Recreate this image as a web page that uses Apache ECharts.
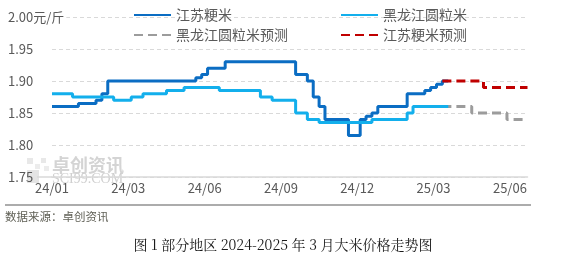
<!DOCTYPE html>
<html><head><meta charset="utf-8">
<script src="https://cdn.jsdelivr.net/npm/echarts@6/dist/echarts.min.js"></script>
<style>html,body{margin:0;padding:0;background:#fff}#c{width:566px;height:259px}</style>
</head><body><div id="c"></div>
<script>
// ---- data (weekly points) ----
const tickLabels = ['24/01','24/03','24/06','24/09','24/12','25/03','25/06'];
const seriesNames = ['江苏粳米','黑龙江圆粒米','黑龙江圆粒米预测','江苏粳米预测'];
const jiangsu = [
  1.86,1.86,1.86,1.86,1.86,1.865,1.865,1.865,1.87,1.88,
  1.90,1.90,1.90,1.90,1.90,1.90,1.90,1.90,1.90,1.90,
  1.90,1.90,1.90,1.90,1.90,1.905,1.91,1.92,1.92,1.92,
  1.93,1.93,1.93,1.93,1.93,1.93,1.93,1.93,1.93,1.93,
  1.93,1.93,1.91,1.91,1.90,1.875,1.86,1.84,1.84,1.84,
  1.84,1.815,1.815,1.84,1.845,1.85,1.86,1.86,1.86,1.86,
  1.86,1.88,1.88,1.88,1.885,1.89,1.895,1.90,null,null,
  null,null,null,null,null,null,null,null,null,null,
  null,null
];
const heilongjiang = [
  1.88,1.88,1.88,1.88,1.875,1.875,1.875,1.875,1.875,1.875,
  1.875,1.87,1.87,1.87,1.875,1.875,1.88,1.88,1.88,1.88,
  1.885,1.885,1.885,1.89,1.89,1.89,1.89,1.89,1.89,1.885,
  1.885,1.885,1.885,1.885,1.885,1.885,1.875,1.875,1.87,1.87,
  1.87,1.87,1.85,1.85,1.84,1.84,1.835,1.835,1.835,1.835,
  1.835,1.835,1.835,1.835,1.835,1.84,1.84,1.84,1.84,1.84,
  1.84,1.85,1.86,1.86,1.86,1.86,1.86,1.86,null,null,
  null,null,null,null,null,null,null,null,null,null,
  null,null
];
const hljForecast = [
  null,null,null,null,null,null,null,null,null,null,
  null,null,null,null,null,null,null,null,null,null,
  null,null,null,null,null,null,null,null,null,null,
  null,null,null,null,null,null,null,null,null,null,
  null,null,null,null,null,null,null,null,null,null,
  null,null,null,null,null,null,null,null,null,null,
  null,null,null,null,null,null,null,1.86,1.86,1.86,
  1.86,1.86,1.85,1.85,1.85,1.85,1.85,1.85,1.84,1.84,
  1.84,1.84
];
const jsForecast = [
  null,null,null,null,null,null,null,null,null,null,
  null,null,null,null,null,null,null,null,null,null,
  null,null,null,null,null,null,null,null,null,null,
  null,null,null,null,null,null,null,null,null,null,
  null,null,null,null,null,null,null,null,null,null,
  null,null,null,null,null,null,null,null,null,null,
  null,null,null,null,null,null,null,1.90,1.90,1.90,
  1.90,1.90,1.90,1.90,1.89,1.89,1.89,1.89,1.89,1.89,
  1.89,1.89
];
const categories = jiangsu.map((_, i) => String(i));

const FONT = '"Noto Sans CJK SC", "Liberation Sans", sans-serif';
const TXT = '#595959';
const colors = ['#0B6DC3', '#13AFEC', '#9C9C9C', '#C00000'];

function legendAt(name, left, top) {
  return {
    data: [name], left: left, top: top, padding: 0,
    itemWidth: 37, itemHeight: 14, selectedMode: false,
    itemStyle: { opacity: 0 },
    textStyle: { color: TXT, fontSize: 14, fontFamily: FONT }
  };
}
function lineSeries(name, data, color, dashed, z) {
  return {
    name: name, type: 'line', data: data, step: 'middle', symbol: 'none',
    z: z, connectNulls: false,
    itemStyle: { color: color },
    lineStyle: { color: color, width: 3, type: dashed ? [9, 5] : 'solid', cap: 'butt' },
    emphasis: { disabled: true }
  };
}

const chart = echarts.init(document.getElementById('c'), null, { renderer: 'canvas' });
chart.setOption({
  animation: false,
  backgroundColor: '#fff',
  grid: { left: 52, right: 38.5, top: 17, bottom: 82, containLabel: false },
  legend: [
    legendAt(seriesNames[0], 133, 8),
    legendAt(seriesNames[1], 340, 8),
    legendAt(seriesNames[2], 133, 28),
    legendAt(seriesNames[3], 340, 28)
  ],
  xAxis: {
    type: 'category', data: categories, boundaryGap: false,
    axisLine: { show: true, lineStyle: { color: '#D9D9D9', width: 1.5 } },
    axisTick: { show: false },
    splitLine: { show: false },
    axisLabel: {
      interval: 12, margin: 5, color: TXT, fontSize: 13, fontFamily: FONT,
      formatter: (v, i) => tickLabels[Math.round(i / 13)] || ''
    }
  },
  yAxis: {
    type: 'value', min: 1.75, max: 2.00, interval: 0.05,
    axisLine: { show: false }, axisTick: { show: false },
    splitLine: { show: true, lineStyle: { color: '#D9D9D9', type: [4, 3], width: 1 } },
    axisLabel: {
      align: 'left', margin: 44, color: TXT, fontSize: 13, fontFamily: FONT,
      formatter: v => Math.abs(v - 2) < 1e-9 ? '{top|2.00元/斤}' : v.toFixed(2),
      rich: { top: { backgroundColor: '#fff', color: TXT, fontSize: 13, fontFamily: FONT, padding: [0, 2, 0, 0] } }
    }
  },
  graphic: [
    // watermark
    { type: 'rect', z: 0, shape: { x: 27, y: 170, width: 12, height: 13 }, style: { fill: '#E4E4E4' } },
    { type: 'rect', z: 0, shape: { x: 27, y: 158, width: 6, height: 6 }, style: { fill: '#E8E8E8' } },
    { type: 'rect', z: 0, shape: { x: 41, y: 158, width: 5, height: 5 }, style: { fill: '#E8E8E8' } },
    { type: 'rect', z: 0, shape: { x: 35, y: 164, width: 5, height: 5 }, style: { fill: '#ECECEC' } },
    { type: 'rect', z: 0, shape: { x: 44, y: 166, width: 5, height: 5 }, style: { fill: '#ECECEC' } },
    { type: 'text', z: 0, left: 52, top: 156, style: { text: '卓创资讯', fill: '#D4D4D4', fontSize: 18, fontFamily: FONT, fontWeight: 'bold' } },
    { type: 'text', z: 0, left: 52, top: 172, style: { text: 'SCI99.COM', fill: '#D0D0D0', fontSize: 14, fontFamily: '"Liberation Serif", serif' } },
    // axis line extension to the left
    { type: 'line', z: 1, shape: { x1: 37, y1: 177, x2: 52, y2: 177 }, style: { stroke: '#D9D9D9', lineWidth: 1.5 } },
    // separator and notes
    { type: 'line', z: 1, shape: { x1: 5, y1: 205, x2: 531, y2: 205 }, style: { stroke: '#5A5A5A', lineWidth: 1.2 } },
    { type: 'text', left: 5, top: 211, style: { text: '数据来源：卓创资讯', fill: '#5F5F55', fontSize: 11.5, fontFamily: FONT } },
    { type: 'text', left: 'center', top: 238, style: { text: '图 1 部分地区 2024-2025 年 3 月大米价格走势图', fill: '#1A1A1A', fontSize: 14, fontFamily: '"Noto Serif CJK SC", "Noto Sans CJK SC", serif' } }
  ],
  series: [
    lineSeries(seriesNames[0], jiangsu, colors[0], false, 3),
    lineSeries(seriesNames[1], heilongjiang, colors[1], false, 4),
    lineSeries(seriesNames[2], hljForecast, colors[2], true, 3),
    lineSeries(seriesNames[3], jsForecast, colors[3], true, 3)
  ]
});
</script></body></html>
